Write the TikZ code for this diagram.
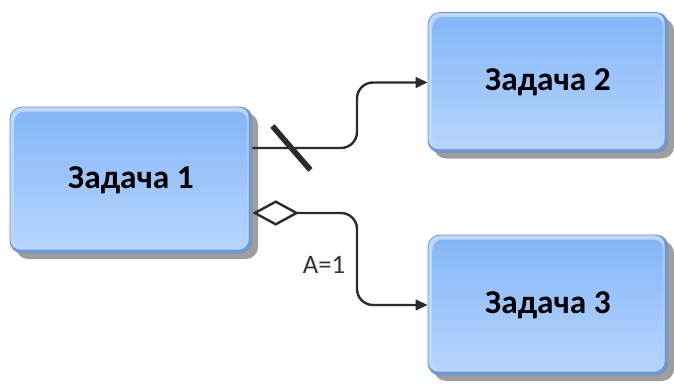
\documentclass[tikz,border=0pt]{standalone}
\usepackage{fontspec}
\setmainfont{Carlito}
\usetikzlibrary{arrows.meta,shadows,calc}

\definecolor{taskTop}{HTML}{86B6F8}
\definecolor{taskBottom}{HTML}{B6D5FD}
\definecolor{taskRim}{HTML}{7A93B5}
\definecolor{bevelLight}{HTML}{BCD7FB}
\definecolor{bevelDark}{HTML}{6C9AD9}
\definecolor{wireCol}{HTML}{2B2B2B}

\tikzset{
  task/.style={rounded corners=9pt, draw=taskRim, line width=0.6pt, fill=bevelDark,
    drop shadow={shadow xshift=4.5pt, shadow yshift=-4.5pt, fill=black!38, opacity=1},
    path picture={%
      \fill[bevelLight, rounded corners=8pt]
        (path picture bounding box.north west) rectangle
        ([xshift=-2.5pt,yshift=2.5pt]path picture bounding box.south east);
      \shade[top color=taskTop, bottom color=taskBottom, rounded corners=7pt]
        ([xshift=3.5pt,yshift=-3.5pt]path picture bounding box.north west) rectangle
        ([xshift=-3.5pt,yshift=3.5pt]path picture bounding box.south east);},
    font=\bfseries\fontsize{25}{29}\selectfont, text=black},
  wire/.style={draw=wireCol, line width=1.8pt, rounded corners=12pt},
  tip/.style={-{Triangle[length=9pt,width=8pt]}}
}

\begin{document}
\begin{tikzpicture}[x=0.75pt,y=-0.75pt]%
\useasboundingbox (0,0) rectangle (674,385);%
%
% tasks
\node[task, minimum width=181.5pt, minimum height=109.5pt] (t1) at (131,180) {Задача 1};%
\node[task, minimum width=180pt, minimum height=105pt] (t2) at (548,82.5) {Задача 2};%
\node[task, minimum width=180pt, minimum height=105pt] (t3) at (548,305) {Задача 3};%
%
% links
\coordinate (bend) at (357,0);%
\coordinate (p1) at ($(t1.east)+(0,-32)$);%
\coordinate (p2) at ($(t1.east)+(0,33)$);%
\draw[wire, tip] (p1) -- (p1 -| bend) |- (t2.west);%
\draw[wire, {Diamond[length=35pt,width=19pt,fill=white]}-{Triangle[length=9pt,width=8pt]}] (p2) -- (p2 -| bend) |- (t3.west);%
%
% cut mark
\coordinate (cut) at ($(p1)+(39,0)$);%
\draw[draw=wireCol, line width=4.2pt] ($(cut)+(-19,-22)$) -- ($(cut)+(19,22)$);%
%
% condition
\node[font=\fontsize{20}{24}\selectfont, text=black!80] (cond) at (324,265) {A=1};%
%
\end{tikzpicture}
\end{document}
